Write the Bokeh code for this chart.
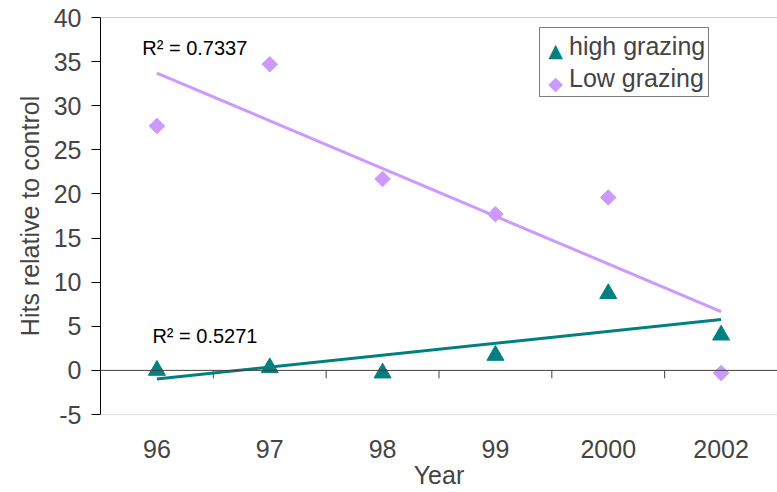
import math
import numpy as np
from bokeh.plotting import figure
from bokeh.models import (Range1d, FixedTicker, Legend, LegendItem, ColumnDataSource,
                          Span, Label)
from bokeh.core.properties import value
from bokeh.embed import file_html
from bokeh.resources import INLINE

# ---- data ----
years = ["96", "97", "98", "99", "2000", "2002"]
high_grazing = [0.0, 0.3, -0.3, 1.7, 8.7, 4.0]
low_grazing = [27.7, 34.7, 21.7, 17.7, 19.6, -0.3]
series_names = ["high grazing", "Low grazing"]
r2_high_label = "R\u00b2 = 0.5271"
r2_low_label = "R\u00b2 = 0.7337"
y_ticks = [-5, 0, 5, 10, 15, 20, 25, 30, 35, 40]

TEAL = "#008080"
LAV = "#CC99FF"
FONT = "Liberation Sans"

xs = list(range(len(years)))
y_lo, y_hi = y_ticks[0], y_ticks[-1]

p = figure(width=777, height=492, output_backend="svg", toolbar_location=None,
           x_range=Range1d(-0.5, len(years) - 0.5), y_range=Range1d(y_lo, y_hi),
           min_border_left=100, min_border_right=0, min_border_top=17,
           min_border_bottom=78)
p.grid.visible = False
p.background_fill_color = "white"
p.border_fill_color = "white"
p.outline_line_color = None

# plot-area top / bottom borders
p.add_layout(Span(location=y_hi, dimension="width", line_color="#a0a0a0", line_width=1))
p.add_layout(Span(location=y_lo, dimension="width", line_color="#c0c0c0", line_width=1))

# y axis
ya = p.yaxis[0]
ya.ticker = FixedTicker(ticks=y_ticks)
ya.major_label_overrides = {t: str(t) for t in y_ticks}
ya.axis_label = "Hits relative to control"
ya.axis_label_text_font = FONT
ya.axis_label_text_font_size = "25px"
ya.axis_label_text_font_style = "normal"
ya.axis_label_standoff = 7
ya.major_label_text_font = FONT
ya.major_label_text_font_size = "25px"
ya.major_label_standoff = 10
ya.major_tick_out = 9
ya.major_tick_in = 0
ya.minor_tick_line_color = None
ya.axis_line_color = "black"
ya.major_tick_line_color = "black"

# x axis (category labels at bottom)
xa = p.xaxis[0]
xa.ticker = FixedTicker(ticks=xs)
xa.major_label_overrides = {i: y for i, y in enumerate(years)}
xa.axis_line_color = None
xa.major_tick_line_color = None
xa.minor_tick_line_color = None
xa.major_label_text_font = FONT
xa.major_label_text_font_size = "25px"
xa.major_label_standoff = 19
xa.axis_label = "Year"
xa.axis_label_text_font = FONT
xa.axis_label_text_font_size = "25px"
xa.axis_label_text_font_style = "normal"
xa.axis_label_standoff = 0

# zero line with category boundary ticks
p.add_layout(Span(location=0, dimension="width", line_color="#404040", line_width=1))
bounds = [i + 0.5 for i in range(len(years) - 1)]
p.segment(x0=bounds, y0=[0] * len(bounds), x1=bounds, y1=[-0.9] * len(bounds),
          line_color="#404040", line_width=1)

# trend lines from least squares fits
xa_np = np.array(xs, dtype=float)
kh = np.polyfit(xa_np, np.array(high_grazing), 1)
kl = np.polyfit(xa_np, np.array(low_grazing), 1)
ends = [xs[0], xs[-1]]
p.line(ends, [np.polyval(kl, e) for e in ends], line_color=LAV, line_width=3)
p.line(ends, [np.polyval(kh, e) for e in ends], line_color=TEAL, line_width=3)

src = ColumnDataSource(dict(x=xs, high=high_grazing, low=low_grazing))
r_high = p.scatter("x", "high", source=src, marker="triangle", size=17,
                   fill_color=TEAL, line_color=TEAL)
r_low = p.scatter("x", "low", source=src, marker="square", size=11, angle=math.pi / 4,
                  fill_color=LAV, line_color=LAV)

# R^2 labels
p.text(x=[-0.13], y=[36.5], text=[r2_low_label], text_font=value(FONT),
       text_font_size="20px", text_baseline="middle", text_align="left", text_color="black")
p.text(x=[-0.04], y=[3.85], text=[r2_high_label], text_font=value(FONT),
       text_font_size="20px", text_baseline="middle", text_align="left", text_color="black")

# legend: box and labels from Bokeh, symbols drawn as glyph characters
dummy_h = p.scatter(x=[], y=[], marker="triangle", fill_alpha=0, line_alpha=0)
dummy_l = p.scatter(x=[], y=[], marker="square", fill_alpha=0, line_alpha=0)
legend = Legend(items=[LegendItem(label=series_names[0], renderers=[dummy_h]),
                       LegendItem(label=series_names[1], renderers=[dummy_l])],
                location=(439, 317), orientation="vertical",
                label_text_font=FONT, label_text_font_size="25px",
                border_line_color="black", border_line_width=1,
                background_fill_alpha=0,
                padding=3, spacing=2, margin=0, label_height=30, glyph_height=30,
                glyph_width=22, label_standoff=4)
p.add_layout(legend)
p.add_layout(Label(x=455, y=365, x_units="screen", y_units="screen", text="\u25b2",
                   text_font="DejaVu Sans", text_font_size="19px",
                   text_color=TEAL, text_align="center", text_baseline="middle"))
p.add_layout(Label(x=455, y=332, x_units="screen", y_units="screen", text="\u25c6",
                   text_font="DejaVu Sans", text_font_size="19px",
                   text_color=LAV, text_align="center", text_baseline="middle"))

open("out.html", "w").write(file_html(p, INLINE))
